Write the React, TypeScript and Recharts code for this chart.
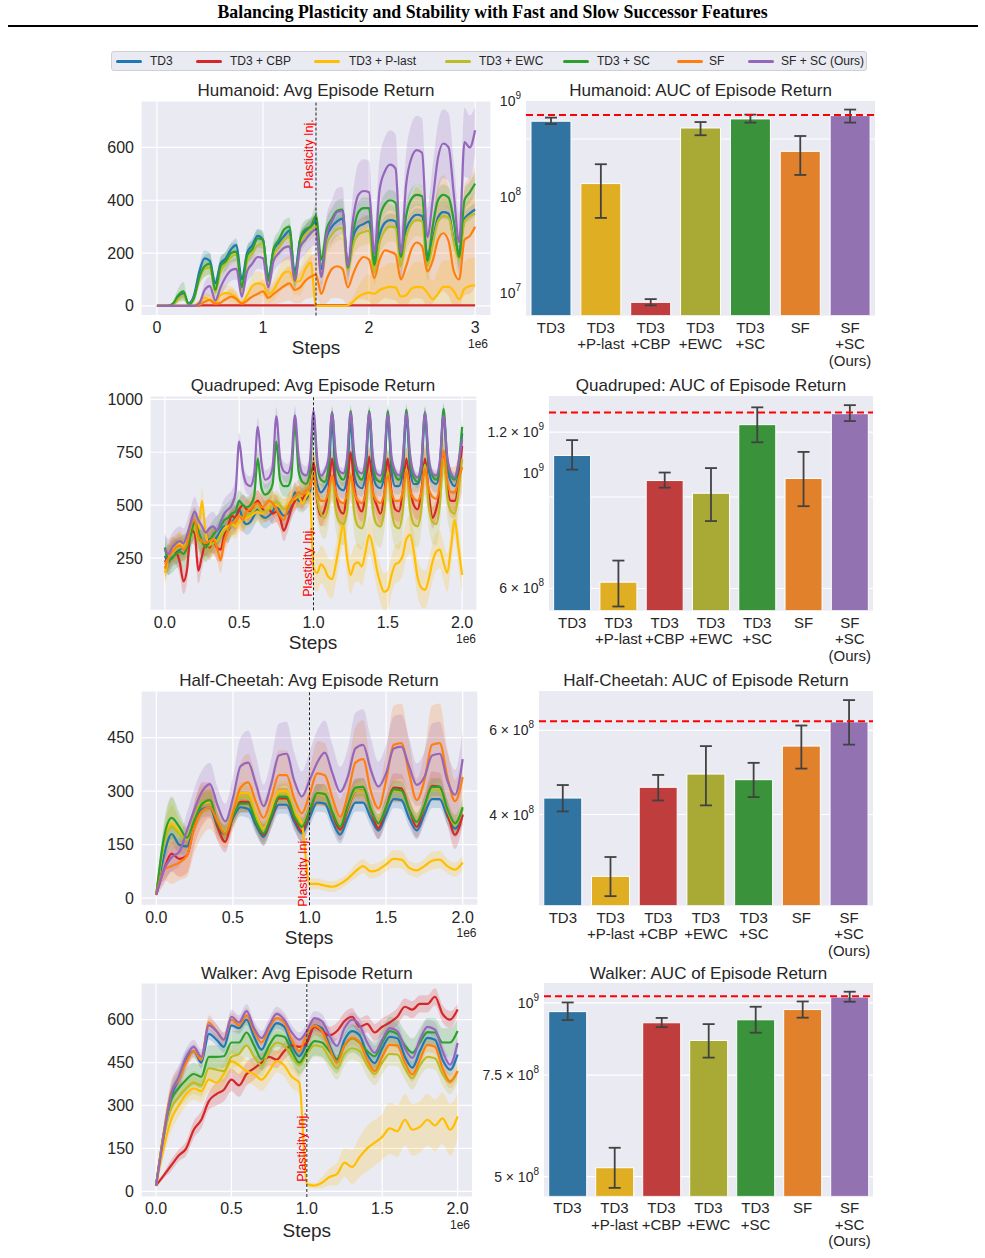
import React from "react";
import {
  ComposedChart, Line, Area, XAxis, YAxis, CartesianGrid, ReferenceLine,
  BarChart, Bar, Cell, ErrorBar,
} from "recharts";

const FONT = "'Liberation Sans', Arial, sans-serif";
const INK = "#262626";
const PANEL_BG = "#eaeaf2";

// legend / line order
const METHODS = ["TD3", "TD3 + CBP", "TD3 + P-last", "TD3 + EWC", "TD3 + SC", "SF", "SF + SC (Ours)"];
const KEYS = ["td3", "cbp", "plast", "ewc", "sc", "sf", "ours"];
const LINE_COLORS = ["#1f77b4", "#d62728", "#ffbf00", "#bcbd22", "#2ca02c", "#ff7f0e", "#9467bd"];

// bar order is different from the legend order
const BAR_LABELS = ["TD3", "TD3\n+P-last", "TD3\n+CBP", "TD3\n+EWC", "TD3\n+SC", "SF", "SF\n+SC\n(Ours)"];
const BAR_COLORS = ["#3274a1", "#dfae22", "#c03d3e", "#a9aa35", "#3a923a", "#e1812c", "#9372b2"];

// ---------- Humanoid: avg episode return (x in 1e6 steps, every 0.05) ----------
const HUM_STEPS = Array.from({ length: 61 }, (_, i) => +(i * 0.05).toFixed(3));
const HUM_XTICKS = [0, 1, 2, 3];
const HUM_YTICKS = [0, 200, 400, 600];
const HUM_TD3 = [0,0,0,5,30,45,10,40,130,180, 170,85,160,180,215,230,100,200,230,265, 250,110,210,240,265,285,125,250,280,300, 320,140,260,300,320,330,155,260,300,310, 320,175,270,315,325,320,205,290,330,345, 340,190,250,335,355,350,250,205,330,350, 365];
const HUM_CBP = [0,0,0,0,0,0,0,0,1,2, 2,2,2,2,2,2,2,2,2,2, 2,2,2,2,2,2,2,2,2,2, 2,2,2,2,2,2,2,2,2,2, 2,2,2,2,2,2,2,2,2,2, 2,2,2,2,2,2,2,2,2,2, 2];
const HUM_PLAST = [0,0,0,0,0,0,0,2,15,30, 22,10,40,48,45,30,12,40,75,85, 80,45,60,95,125,130,90,95,140,165, 0,0,0,0,0,0,2,15,35,45, 50,45,60,68,72,70,35,40,65,72, 70,50,25,45,72,72,55,25,65,75, 78];
const HUM_EWC = [0,0,0,3,25,40,5,30,100,140, 145,50,130,160,185,195,60,170,200,230, 235,75,190,220,250,260,90,230,270,290, 305,110,230,270,290,295,135,230,270,280, 285,125,240,285,300,295,150,260,310,325, 320,150,230,320,340,335,240,175,320,340, 350];
const HUM_SC = [0,0,0,8,40,55,5,30,110,150, 160,60,150,170,200,205,70,190,215,255, 250,95,215,250,290,300,100,250,290,300, 340,175,290,330,360,365,145,280,355,370, 370,155,330,385,400,390,185,340,405,420, 415,170,300,400,420,410,320,185,400,430, 463];
const HUM_SF = [0,0,0,0,0,0,0,0,3,15, 22,8,12,25,35,25,8,20,35,45, 55,30,45,60,75,85,60,70,95,110, 118,45,100,140,150,140,70,120,165,185, 175,105,175,210,205,195,100,150,215,240, 225,130,170,250,275,245,130,100,250,265, 300];
const HUM_OURS = [0,0,0,0,0,0,0,0,10,60, 75,20,70,110,135,140,35,130,160,185, 180,70,170,200,220,225,95,220,250,275, 290,110,270,320,355,360,150,330,420,435, 430,200,440,510,535,520,200,460,560,590, 580,260,400,560,615,600,420,240,620,600, 665];
// half-width of the shaded bands
const HUM_TD3_SD = [0,0,0,3,10,15,5,15,25,30, 30,20,25,25,25,25,20,25,25,25, 25,20,25,25,25,25,20,25,25,25, 25,25,25,25,25,25,25,25,25,25, 25,25,25,25,25,25,25,25,25,25, 25,25,25,25,25,25,25,25,25,25, 25];
const HUM_CBP_SD = [0,0,0,0,0,0,0,0,2,2, 2,2,2,2,2,2,2,2,2,2, 2,2,2,2,2,2,2,2,2,2, 2,2,2,2,2,2,2,2,2,2, 2,2,2,2,2,2,2,2,2,2, 2,2,2,2,2,2,2,2,2,2, 2];
const HUM_PLAST_SD = [0,0,0,0,0,0,0,2,10,20, 20,10,25,30,30,25,10,30,40,45, 45,35,40,50,55,60,50,55,60,60, 0,0,0,0,0,0,5,20,40,60, 70,70,80,85,90,90,70,80,90,95, 95,80,70,90,100,100,90,70,100,105, 105];
const HUM_EWC_SD = [0,0,0,3,15,20,5,15,25,30, 30,20,30,30,30,30,20,35,35,35, 35,25,35,35,40,40,30,40,40,40, 40,35,45,45,45,45,40,45,50,50, 50,45,50,55,55,55,50,55,60,60, 60,55,60,60,65,65,60,60,65,65, 65];
const HUM_SC_SD = [0,0,0,8,25,35,5,20,30,40, 40,25,35,35,35,35,25,35,35,35, 35,25,35,35,35,35,25,35,35,35, 40,35,40,40,40,40,35,40,40,40, 40,35,40,40,40,40,35,40,40,40, 40,35,40,40,40,40,35,40,40,40, 40];
const HUM_SF_SD = [0,0,0,0,0,0,0,0,3,15, 20,8,12,25,30,25,8,20,35,40, 45,30,40,50,60,65,50,60,70,80, 80,45,90,110,120,115,70,110,140,160, 160,110,160,180,180,175,100,150,190,210, 200,130,160,210,220,210,130,100,210,220, 230];
const HUM_OURS_SD = [0,0,0,0,0,0,0,0,8,30, 35,15,35,40,40,40,20,40,45,45, 45,30,45,45,50,50,40,50,55,55, 60,50,70,80,90,90,70,100,120,120, 120,90,120,130,130,130,100,120,130,130, 130,110,130,130,130,130,120,110,130,120, 90];

// ---------- Quadruped (every 0.025e6) ----------
const Q_STEPS = Array.from({ length: 81 }, (_, i) => +(i * 0.025).toFixed(3));
const Q_XTICKS = [0, 0.5, 1, 1.5, 2];
const Q_YTICKS = [250, 500, 750, 1000];
const Q_TD3 = [260,230,270,280,290,300,310,370,400,350, 320,320,340,330,350,380,400,380,420,440,
  480,430,410,420,450, 480,450,440,450,470, 500,470,450,460,490, 560,520,520,530,560,
  690,600,560,580,620, 900,620,580,570,620, 900,640,590,580,640, 920,650,590,580,640,
  920,660,590,590,650, 920,670,600,600,660, 920,670,610,600,660, 930,680,610,590,650, 840];
const Q_CBP = [230,260,290,280,230,140,200,380,370,190, 260,320,300,330,300,290,360,400,450,440,
  480,500,480,470,500, 520,490,470,480,460, 470,440,380,420,480, 520,540,530,560,580,
  700,520,450,480,560, 720,560,480,460,560, 750,580,500,470,560, 730,560,500,460,540,
  720,560,480,470,560, 720,580,500,480,560, 720,560,440,480,570, 740,580,520,520,600, 780];
const Q_PLAST = [180,250,290,300,320,300,330,390,400,380, 520,360,320,340,330,360,390,400,410,400,
  420,430,440,450,460, 470,460,470,490,500, 500,490,480,500,520, 530,540,510,540,560,
  200,180,220,200,160, 150,220,320,410,260, 170,220,230,210,280, 360,300,200,130,90,
  100,170,220,230,260, 340,360,280,160,110, 100,150,230,280,290, 230,180,300,430,300, 170];
const Q_EWC = [220,250,270,290,300,300,320,380,390,330, 320,300,310,320,330,350,380,390,410,430,
  450,440,450,460,480, 490,470,470,480,500, 520,500,480,490,510, 540,540,550,560,580,
  660,530,460,440,500, 640,480,420,410,470, 650,460,400,390,460, 660,480,410,400,470,
  660,480,400,390,470, 670,480,410,400,480, 690,500,420,410,500, 720,540,470,460,560, 720];
const Q_SC = [300,240,250,270,280,270,300,360,420,380, 330,300,330,360,380,400,430,440,460,470,
  520,500,490,500,540, 720,580,550,560,600, 800,620,590,590,630, 890,660,610,600,650,
  920,690,620,610,680, 940,700,640,620,680, 945,700,640,620,690, 945,700,620,610,680,
  945,700,640,620,690, 950,700,630,610,690, 940,700,640,620,690, 955,710,640,620,690, 870];
const Q_SF = [200,250,280,300,310,290,320,410,430,350, 330,320,330,340,300,240,330,380,420,420,
  450,430,470,480,500, 510,490,500,520,510, 480,450,430,480,520, 540,560,550,570,580,
  640,560,520,520,560, 640,560,520,510,550, 640,560,520,510,550, 650,560,520,510,550,
  640,560,520,520,560, 660,570,530,520,560, 670,580,540,530,600, 760,620,560,560,620, 680];
const Q_OURS = [290,270,300,320,330,320,360,420,470,430, 400,370,390,400,380,420,460,480,500,560,
  800,660,600,590,640, 870,700,620,630,680, 920,720,660,650,700, 925,730,650,640,700,
  945,720,640,660,720, 935,740,660,650,720, 935,740,660,650,720, 935,730,650,640,720,
  930,730,660,640,720, 935,740,650,630,700, 935,730,650,640,710, 925,730,650,630,700, 810];
const Q_TD3_SD = [60,60,60,60,60,60,60,60,60,60, 60,60,60,60,60,60,60,60,60,60,
  50,50,50,50,50, 50,50,50,50,50, 50,50,50,50,50, 50,50,50,50,50,
  40,40,40,40,40, 40,40,40,40,40, 40,40,40,40,40, 40,40,40,40,40,
  40,40,40,40,40, 40,40,40,40,40, 40,40,40,40,40, 40,40,40,40,40, 50];
const Q_CBP_SD = [60,60,60,60,60,60,60,60,60,60, 60,60,60,60,60,60,60,60,60,60,
  50,50,50,50,50, 50,50,50,50,50, 50,50,50,50,50, 50,50,50,50,50,
  50,50,50,50,50, 50,50,50,50,50, 50,50,50,50,50, 50,50,50,50,50,
  50,50,50,50,50, 50,50,50,50,50, 50,50,50,50,50, 50,50,50,50,50, 60];
const Q_PLAST_SD = [60,60,60,60,60,60,60,60,60,60, 60,60,60,60,60,60,60,60,60,60,
  50,50,50,50,50, 50,50,50,50,50, 50,50,50,50,50, 50,50,50,50,50,
  90,90,90,90,90, 90,90,90,90,90, 90,90,90,90,90, 90,90,90,90,90,
  90,90,90,90,90, 90,90,90,90,90, 90,90,90,90,90, 90,90,90,90,90, 90];
const Q_EWC_SD = [60,60,60,60,60,60,60,60,60,60, 60,60,60,60,60,60,60,60,60,60,
  50,50,50,50,50, 50,50,50,50,50, 50,50,50,50,50, 50,50,50,50,50,
  100,100,100,100,100, 100,100,100,100,100, 100,100,100,100,100, 100,100,100,100,100,
  100,100,100,100,100, 100,100,100,100,100, 100,100,100,100,100, 100,100,100,100,100, 100];
const Q_SC_SD = [70,70,70,70,70,70,70,70,70,70, 70,70,70,70,70,70,70,70,70,70,
  50,50,50,50,50, 50,50,50,50,50, 50,50,50,50,50, 50,50,50,50,50,
  30,30,30,30,30, 30,30,30,30,30, 30,30,30,30,30, 30,30,30,30,30,
  30,30,30,30,30, 30,30,30,30,30, 30,30,30,30,30, 30,30,30,30,30, 50];
const Q_SF_SD = [60,60,60,60,60,60,60,60,60,60, 60,60,60,60,60,60,60,60,60,60,
  60,60,60,60,60, 60,60,60,60,60, 60,60,60,60,60, 60,60,60,60,60,
  120,120,120,120,120, 120,120,120,120,120, 120,120,120,120,120, 120,120,120,120,120,
  120,120,120,120,120, 120,120,120,120,120, 120,120,120,120,120, 120,120,120,120,120, 120];
const Q_OURS_SD = [70,70,70,70,70,70,70,70,70,70, 70,70,70,70,70,70,70,70,70,70,
  45,45,45,45,45, 45,45,45,45,45, 45,45,45,45,45, 45,45,45,45,45,
  25,25,25,25,25, 25,25,25,25,25, 25,25,25,25,25, 25,25,25,25,25,
  25,25,25,25,25, 25,25,25,25,25, 25,25,25,25,25, 25,25,25,25,25, 40];

// ---------- Half-Cheetah (every 0.05e6) ----------
const HC_STEPS = Array.from({ length: 41 }, (_, i) => +(i * 0.05).toFixed(3));
const HC_XTICKS = [0, 0.5, 1, 1.5, 2];
const HC_YTICKS = [0, 150, 300, 450];
const HC_TD3 = [10,120,180,150,145,210,250,255,200,180, 225,255,250,205,172,220,262,262,215,182, 225,268,265,215,178,225,268,268,225,190, 235,278,275,225,190,235,278,278,230,195, 232];
const HC_CBP = [10,80,125,110,120,210,265,275,200,158, 230,270,270,215,178,225,280,280,225,188, 240,290,290,235,192,250,300,302,245,196, 255,310,308,250,200,255,315,312,240,178, 235];
const HC_PLAST = [10,160,210,185,165,220,265,270,215,185, 245,295,295,235,195,245,300,300,245,210, 40,40,35,32,40,55,75,90,75,80, 95,110,108,85,78,90,105,108,90,80, 100];
const HC_EWC = [10,150,200,180,165,225,270,275,215,185, 240,285,285,225,190,235,290,292,240,205, 250,290,288,240,205,255,300,300,248,212, 255,300,298,250,215,258,305,302,245,205, 250];
const HC_SC = [10,170,225,200,170,220,265,275,210,180, 230,265,265,215,182,230,285,285,230,200, 245,295,292,240,200,260,310,312,250,210, 255,305,302,250,214,260,312,312,250,210, 255];
const HC_SF = [10,80,90,100,120,200,245,255,215,180, 240,310,325,270,225,280,345,345,280,238, 290,350,345,280,228,290,380,390,300,252, 330,430,435,350,275,330,430,435,340,272, 340];
const HC_OURS = [10,80,115,130,190,250,300,320,260,215, 280,370,380,320,258,320,400,405,330,285, 330,380,408,350,298,340,420,430,360,313, 350,420,425,370,318,340,400,405,330,290, 390];
const HC_TD3_SD = [5,30,30,25,25,25,25,25,25,25, 25,25,25,25,25,25,25,25,25,25, 25,25,25,25,25,25,25,25,25,25, 25,25,25,25,25,25,25,25,25,25, 25];
const HC_CBP_SD = [5,40,50,50,50,60,60,50,40,30, 30,30,30,30,30,30,30,30,30,30, 30,30,30,30,30,30,35,35,30,30, 35,40,40,35,30,35,40,40,35,40, 30];
const HC_PLAST_SD = [5,40,70,40,30,35,35,30,25,25, 30,30,30,30,25,30,30,30,30,25, 15,15,15,15,15,15,20,20,20,20, 20,25,25,20,20,20,25,25,20,20, 20];
const HC_EWC_SD = [5,40,60,40,30,35,35,30,25,25, 30,30,30,30,25,30,30,30,30,25, 30,30,30,30,25,30,30,30,30,25, 30,30,30,30,25,30,30,30,30,25, 30];
const HC_SC_SD = [5,40,60,40,30,30,30,30,25,25, 25,25,25,25,25,25,25,25,25,25, 25,25,25,25,25,25,25,25,25,25, 25,25,25,25,25,25,25,25,25,25, 25];
const HC_SF_SD = [5,30,50,50,60,70,70,60,50,40, 50,70,80,70,50,60,70,70,60,50, 70,90,90,70,50,70,100,110,80,60, 80,110,110,90,60,80,110,110,80,60, 60];
const HC_OURS_SD = [5,30,40,40,50,60,60,60,50,50, 60,80,90,80,60,70,90,90,80,70, 80,90,90,80,70,80,100,100,90,70, 80,90,90,80,60,70,90,90,80,70, 80];

// ---------- Walker (every 0.05e6) ----------
const W_STEPS = Array.from({ length: 41 }, (_, i) => +(i * 0.05).toFixed(3));
const W_XTICKS = [0, 0.5, 1, 1.5, 2];
const W_YTICKS = [0, 150, 300, 450, 600];
const W_TD3 = [20,190,330,390,460,490,450,550,530,505, 580,570,600,540,495,550,588,575,510,472, 520,580,570,510,460,530,560,545,480,448, 500,540,535,470,432,490,536,530,460,425, 478];
const W_CBP = [20,55,90,125,150,215,250,315,340,355, 390,370,410,430,450,470,460,490,510,505, 520,575,560,545,560,595,610,575,585,555, 575,590,610,645,635,655,655,680,620,600, 635];
const W_PLAST = [20,150,250,300,340,360,350,390,380,410, 455,440,420,410,390,420,455,440,400,380, 25,20,30,50,60,100,85,120,150,170, 190,220,210,250,215,225,250,230,255,215, 262];
const W_EWC = [20,190,290,330,360,380,370,430,425,420, 470,480,510,470,440,490,520,510,470,440, 480,510,505,465,430,480,500,490,440,410, 450,480,478,430,395,440,470,465,410,380, 420];
const W_SC = [20,200,320,360,390,410,400,470,470,472, 520,520,555,510,462,510,545,540,490,450, 490,525,520,490,462,510,535,520,490,472, 520,560,550,510,484,520,556,555,520,520, 560];
const W_SF = [20,200,345,390,450,490,460,590,560,530, 600,580,615,560,520,570,605,590,530,490, 550,578,560,500,450,510,536,520,460,420, 470,512,510,450,408,460,512,505,430,385, 420];
const W_OURS = [20,190,340,400,470,505,470,580,560,530, 610,590,630,570,535,580,620,600,555,530, 560,605,595,545,508,570,600,580,520,484, 530,570,560,500,466,530,575,565,490,443, 518];
const W_TD3_SD = [5,30,35,35,30,20,20,20,20,20, 20,20,20,20,20,20,20,20,20,20, 20,20,20,20,20,20,20,20,20,20, 20,20,20,20,20,20,20,20,20,20, 20];
const W_CBP_SD = [5,10,20,20,25,30,30,30,40,40, 40,40,40,40,30,30,30,30,30,30, 30,30,30,30,30,30,30,30,30,30, 30,30,30,30,30,30,30,30,30,30, 20];
const W_PLAST_SD = [5,30,40,40,40,40,40,40,40,40, 40,40,40,40,40,40,40,40,40,40, 10,10,20,30,40,50,60,70,80,80, 80,90,90,90,90,90,90,90,90,90, 80];
const W_EWC_SD = [5,30,40,40,40,40,40,40,40,40, 40,40,40,40,40,40,40,40,40,40, 40,40,40,40,40,40,40,40,40,40, 40,40,40,40,40,40,40,40,40,40, 40];
const W_SC_SD = [5,30,40,40,40,40,40,40,40,40, 40,40,40,40,40,40,40,40,40,40, 50,50,50,50,50,50,50,50,50,50, 50,50,50,50,50,50,50,50,50,50, 40];
const W_SF_SD = [5,30,40,40,30,25,25,25,25,25, 25,25,25,25,25,25,25,25,25,25, 25,25,25,25,25,25,25,25,25,25, 25,25,25,25,25,25,25,25,25,25, 25];
const W_OURS_SD = [5,30,40,40,30,25,25,25,25,25, 25,25,25,25,25,25,25,25,25,25, 25,25,25,25,25,25,25,25,25,25, 25,25,25,25,25,25,25,25,25,25, 25];

// ---------- AUC bars (bar order) ----------
const HUM_AUC = [6.2e8, 1.39e8, 8.05e6, 5.27e8, 6.55e8, 3.01e8, 7.1e8];
const HUM_AUC_LO = [5.8e8, 6.1e7, 7.5e6, 4.43e8, 6.0e8, 1.71e8, 6.0e8];
const HUM_AUC_HI = [6.76e8, 2.21e8, 8.7e6, 6.08e8, 7.26e8, 4.35e8, 8.2e8];
const HUM_BEST = 7.2e8;
const HUM_LOG_TICKS = [1e7, 1e8, 1e9];
const HUM_LOG_GRID = [4.05e8];

const Q_AUC = [1.082e9, 6.17e8, 9.68e8, 9.15e8, 1.24e9, 9.77e8, 1.302e9];
const Q_AUC_LO = [1.016e9, 5.54e8, 9.38e8, 8.09e8, 1.147e9, 8.64e8, 1.26e9];
const Q_AUC_HI = [1.158e9, 6.79e8, 1.003e9, 1.023e9, 1.339e9, 1.099e9, 1.352e9];
const Q_BEST = 1.308e9;
const Q_LOG_TICKS = [6e8, 1e9, 1.2e9];
const Q_LOG_GRID = [6e8, 9e8, 1.2e9];

const HC_AUC = [4.33e8, 2.97e8, 4.56e8, 4.86e8, 4.73e8, 5.56e8, 6.25e8];
const HC_AUC_LO = [4.06e8, 2.7e8, 4.28e8, 4.18e8, 4.35e8, 4.99e8, 5.6e8];
const HC_AUC_HI = [4.61e8, 3.26e8, 4.84e8, 5.56e8, 5.13e8, 6.14e8, 6.94e8];
const HC_BEST = 6.27e8;
const HC_LOG_TICKS = [4e8, 6e8];
const HC_LOG_GRID = [4e8, 6e8];

const W_AUC = [9.66e8, 5.18e8, 9.24e8, 8.61e8, 9.35e8, 9.74e8, 1.024e9];
const W_AUC_LO = [9.34e8, 4.78e8, 9.08e8, 8.04e8, 8.88e8, 9.43e8, 1.005e9];
const W_AUC_HI = [1.002e9, 5.61e8, 9.42e8, 9.19e8, 9.85e8, 1.006e9, 1.046e9];
const W_BEST = 1.027e9;
const W_LOG_TICKS = [5e8, 7.5e8, 1e9];
const W_LOG_GRID = [5e8, 7.5e8, 1e9];

type Box = { l: number; t: number; w: number; h: number };

function Txt({ x, y, size, children, color = INK, weight = 400, family = FONT, rotate = 0 }: any) {
  return (
    <div
      style={{
        position: "absolute", left: x, top: y, whiteSpace: "nowrap", lineHeight: 1,
        transform: `translate(-50%, -50%) rotate(${rotate}deg)`,
        fontSize: size, color, fontWeight: weight, fontFamily: family,
      }}
    >
      {children}
    </div>
  );
}

function buildRows(steps: number[], means: number[][], sds: number[][]) {
  return steps.map((x, i) => {
    const r: any = { x };
    KEYS.forEach((k, j) => {
      const m = means[j][i];
      const s = sds[j][i];
      r[k] = m;
      r[k + "Band"] = [Math.max(0, m - s), m + s];
    });
    return r;
  });
}

function LinePanel(p: any) {
  const plot: Box = p.plot;
  const rows = buildRows(p.steps, p.means, p.sds);
  const ML = 60, MT = 10, MR = 10, XH = 40;
  return (
    <>
      <div style={{ position: "absolute", left: plot.l - ML, top: plot.t - MT }}>
        <ComposedChart width={plot.w + ML + MR} height={plot.h + MT + XH} data={rows} margin={{ top: MT, right: MR, bottom: 0, left: 0 }}>
          <CartesianGrid fill={PANEL_BG} stroke="#ffffff" strokeWidth={1.2} />
          <XAxis
            dataKey="x" type="number" domain={p.xDomain} ticks={p.xTicks} allowDataOverflow interval={0}
            axisLine={false} tickLine={false} tickSize={0} tickMargin={0} height={XH}
            tick={(t: any) => (
              <text x={t.x} y={t.y + 17.5} textAnchor="middle" fontSize={16} fill={INK} fontFamily={FONT}>
                {Number(t.payload.value).toFixed(p.xDigits)}
              </text>
            )}
          />
          <YAxis
            type="number" domain={p.yDomain} ticks={p.yTicks} allowDataOverflow interval={0}
            axisLine={false} tickLine={false} tickSize={0} tickMargin={0} width={ML}
            tick={(t: any) => (
              <text x={t.x - 7} y={t.y} textAnchor="end" dominantBaseline="central" fontSize={16} fill={INK} fontFamily={FONT}>
                {t.payload.value}
              </text>
            )}
          />
          {KEYS.map((k, j) => (
            <Area key={k + "b"} dataKey={k + "Band"} type="monotone" stroke="none" fill={LINE_COLORS[j]} fillOpacity={0.2} isAnimationActive={false} />
          ))}
          {KEYS.map((k, j) => (
            <Line key={k} dataKey={k} type="monotone" stroke={LINE_COLORS[j]} strokeWidth={2.2} dot={false} isAnimationActive={false} />
          ))}
          <ReferenceLine x={p.inj} stroke="#222222" strokeWidth={1} strokeDasharray="3 2" />
        </ComposedChart>
      </div>
      <Txt x={p.titleAt[0]} y={p.titleAt[1]} size={17}>{p.title}</Txt>
      <Txt x={p.stepsAt[0]} y={p.stepsAt[1]} size={19}>Steps</Txt>
      <Txt x={p.expAt[0]} y={p.expAt[1]} size={12}>1e6</Txt>
      <Txt x={p.injAt[0]} y={p.injAt[1]} size={12.5} color="#ff0000" rotate={-90}>Plasticity Inj.</Txt>
    </>
  );
}

const LogTick = (t: any) => {
  const v = t.payload.value;
  const e = Math.floor(Math.log10(v) + 1e-9);
  const m = +(v / Math.pow(10, e)).toFixed(2);
  return (
    <text x={t.x - 5} y={t.y} textAnchor="end" dominantBaseline="central" fontSize={14} fill={INK} fontFamily={FONT}>
      {m === 1 ? "10" : `${m} × 10`}
      <tspan dy={-6} fontSize={10}>{e}</tspan>
    </text>
  );
};

const BarTick = (t: any) => {
  const lines = String(t.payload.value).split("\n");
  return (
    <text x={t.x} y={t.y} textAnchor="middle" fontSize={15} fill={INK} fontFamily={FONT}>
      {lines.map((s, i) => (
        <tspan key={i} x={t.x} dy={i === 0 ? 17 : 16.5}>{s}</tspan>
      ))}
    </text>
  );
};

function BarPanel(p: any) {
  const plot: Box = p.plot;
  const rows = BAR_LABELS.map((label, i) => ({
    label,
    v: p.vals[i],
    err: [p.vals[i] - p.lo[i], p.hi[i] - p.vals[i]],
  }));
  const ML = 90, MT = 10, MR = 10, XH = 70;
  return (
    <>
      <div style={{ position: "absolute", left: plot.l - ML, top: plot.t - MT }}>
        <BarChart width={plot.w + ML + MR} height={plot.h + MT + XH} data={rows} margin={{ top: MT, right: MR, bottom: 0, left: 0 }} barCategoryGap="10%">
          <CartesianGrid fill={PANEL_BG} stroke="#ffffff" strokeWidth={1.2} vertical={false} horizontalValues={p.grid} />
          <XAxis dataKey="label" interval={0} axisLine={false} tickLine={false} tickSize={0} tickMargin={0} height={XH} tick={BarTick} />
          <YAxis
            type="number" scale="log" domain={p.domain} allowDataOverflow ticks={p.ticks} interval={0}
            axisLine={false} tickLine={false} tickSize={0} tickMargin={0} width={ML} tick={LogTick}
          />
          <Bar dataKey="v" isAnimationActive={false} stroke="#ffffff" strokeWidth={1}>
            {rows.map((_, i) => <Cell key={i} fill={BAR_COLORS[i]} />)}
            <ErrorBar dataKey="err" direction="y" width={6} stroke="#424242" strokeWidth={1.8} />
          </Bar>
          <ReferenceLine y={p.best} stroke="#ff0000" strokeWidth={2} strokeDasharray="7 4" />
        </BarChart>
      </div>
      <Txt x={p.titleAt[0]} y={p.titleAt[1]} size={17}>{p.title}</Txt>
    </>
  );
}

const LEGEND_SWATCH_X = [116, 196, 314, 445, 563, 677, 748];
const LEGEND_TEXT_X = [150, 230, 349, 479, 597, 709, 781];

function Legend() {
  return (
    <>
      <div style={{ position: "absolute", left: 111, top: 51, width: 756, height: 20, boxSizing: "border-box", background: PANEL_BG, border: "1px solid #cfcfd6", borderRadius: 3 }} />
      {METHODS.map((m, i) => (
        <React.Fragment key={m}>
          <div style={{ position: "absolute", left: LEGEND_SWATCH_X[i], top: 59.5, width: 26, height: 3.5, borderRadius: 2, background: LINE_COLORS[i] }} />
          <div style={{ position: "absolute", left: LEGEND_TEXT_X[i], top: 55, fontSize: 12, lineHeight: "12px", color: INK, fontFamily: FONT, whiteSpace: "nowrap" }}>{m}</div>
        </React.Fragment>
      ))}
    </>
  );
}

export default function App() {
  return (
    <div style={{ position: "absolute", left: 0, top: 0, width: 985, height: 1258, background: "#ffffff", fontFamily: FONT }}>
      <Txt x={492.5} y={13} size={17.8} weight={700} color="#000" family="'Liberation Serif', 'Times New Roman', serif">
        Balancing Plasticity and Stability with Fast and Slow Successor Features
      </Txt>
      <div style={{ position: "absolute", left: 8, top: 25, width: 970, height: 2, background: "#000" }} />
      <Legend />

      <LinePanel
        title="Humanoid: Avg Episode Return" plot={{ l: 141, t: 100.7, w: 350, h: 214.6 }}
        steps={HUM_STEPS}
        means={[HUM_TD3, HUM_CBP, HUM_PLAST, HUM_EWC, HUM_SC, HUM_SF, HUM_OURS]}
        sds={[HUM_TD3_SD, HUM_CBP_SD, HUM_PLAST_SD, HUM_EWC_SD, HUM_SC_SD, HUM_SF_SD, HUM_OURS_SD]}
        xDomain={[-0.15, 3.15]} yDomain={[-37, 776]} xTicks={HUM_XTICKS} yTicks={HUM_YTICKS} xDigits={0}
        inj={1.5} injAt={[309.3, 154]} titleAt={[316, 90]} stepsAt={[316, 347]} expAt={[478, 344]}
      />
      <LinePanel
        title="Quadruped: Avg Episode Return" plot={{ l: 150, t: 395.7, w: 327, h: 214.3 }}
        steps={Q_STEPS}
        means={[Q_TD3, Q_CBP, Q_PLAST, Q_EWC, Q_SC, Q_SF, Q_OURS]}
        sds={[Q_TD3_SD, Q_CBP_SD, Q_PLAST_SD, Q_EWC_SD, Q_SC_SD, Q_SF_SD, Q_OURS_SD]}
        xDomain={[-0.1, 2.1]} yDomain={[3, 1016]} xTicks={Q_XTICKS} yTicks={Q_YTICKS} xDigits={1}
        inj={1} injAt={[308.3, 561.7]} titleAt={[313, 385]} stepsAt={[313, 641.7]} expAt={[466, 639]}
      />
      <LinePanel
        title="Half-Cheetah: Avg Episode Return" plot={{ l: 140.7, t: 690.7, w: 337, h: 214.3 }}
        steps={HC_STEPS}
        means={[HC_TD3, HC_CBP, HC_PLAST, HC_EWC, HC_SC, HC_SF, HC_OURS]}
        sds={[HC_TD3_SD, HC_CBP_SD, HC_PLAST_SD, HC_EWC_SD, HC_SC_SD, HC_SF_SD, HC_OURS_SD]}
        xDomain={[-0.1, 2.1]} yDomain={[-20, 581]} xTicks={HC_XTICKS} yTicks={HC_YTICKS} xDigits={1}
        inj={1} injAt={[303.3, 871.5]} titleAt={[309, 680]} stepsAt={[309, 936.7]} expAt={[466.5, 933]}
      />
      <LinePanel
        title="Walker: Avg Episode Return" plot={{ l: 141, t: 983.3, w: 331.7, h: 214 }}
        steps={W_STEPS}
        means={[W_TD3, W_CBP, W_PLAST, W_EWC, W_SC, W_SF, W_OURS]}
        sds={[W_TD3_SD, W_CBP_SD, W_PLAST_SD, W_EWC_SD, W_SC_SD, W_SF_SD, W_OURS_SD]}
        xDomain={[-0.1, 2.1]} yDomain={[-20, 728]} xTicks={W_XTICKS} yTicks={W_YTICKS} xDigits={1}
        inj={1} injAt={[301.7, 1147.3]} titleAt={[306.8, 973]} stepsAt={[306.8, 1230]} expAt={[460, 1225]}
      />

      <BarPanel
        title="Humanoid: AUC of Episode Return" plot={{ l: 526, t: 100.7, w: 349, h: 214.6 }}
        vals={HUM_AUC} lo={HUM_AUC_LO} hi={HUM_AUC_HI} best={HUM_BEST}
        domain={[5.86e6, 1.007e9]} ticks={HUM_LOG_TICKS} grid={HUM_LOG_GRID} titleAt={[700.5, 90]}
      />
      <BarPanel
        title="Quadruped: AUC of Episode Return" plot={{ l: 549, t: 395.7, w: 324, h: 214.6 }}
        vals={Q_AUC} lo={Q_AUC_LO} hi={Q_AUC_HI} best={Q_BEST}
        domain={[5.44e8, 1.408e9]} ticks={Q_LOG_TICKS} grid={Q_LOG_GRID} titleAt={[711, 385]}
      />
      <BarPanel
        title="Half-Cheetah: AUC of Episode Return" plot={{ l: 539, t: 690.7, w: 334, h: 214.6 }}
        vals={HC_AUC} lo={HC_AUC_LO} hi={HC_AUC_HI} best={HC_BEST}
        domain={[2.58e8, 7.25e8]} ticks={HC_LOG_TICKS} grid={HC_LOG_GRID} titleAt={[706, 680]}
      />
      <BarPanel
        title="Walker: AUC of Episode Return" plot={{ l: 544, t: 983.3, w: 329, h: 213.4 }}
        vals={W_AUC} lo={W_AUC_LO} hi={W_AUC_HI} best={W_BEST}
        domain={[4.62e8, 1.083e9]} ticks={W_LOG_TICKS} grid={W_LOG_GRID} titleAt={[708.5, 973]}
      />
    </div>
  );
}
